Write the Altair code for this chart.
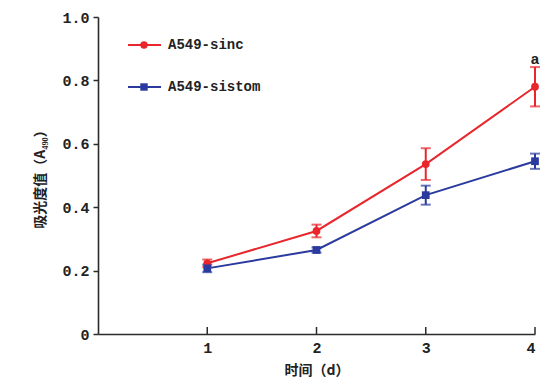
import altair as alt
import pandas as pd

days = [1, 2, 3, 4]
sinc_mean = [0.223, 0.325, 0.536, 0.780]
sinc_err = [0.012, 0.020, 0.050, 0.062]
sistom_mean = [0.207, 0.265, 0.438, 0.545]
sistom_err = [0.012, 0.008, 0.030, 0.024]
series_names = ["A549-sinc", "A549-sistom"]
series_colors = ["#E8262B", "#2A3A9E"]
y_ticks = [0, 0.2, 0.4, 0.6, 0.8, 1.0]
x_ticks = [1, 2, 3, 4]
annot_day = [4]
annot_y = [0.868]
annot_text = ["a"]

rows = []
for name, m, e in [(series_names[0], sinc_mean, sinc_err), (series_names[1], sistom_mean, sistom_err)]:
    for d, mm, ee in zip(days, m, e):
        rows.append({"day": d, "value": mm, "lo": mm - ee, "hi": mm + ee, "series": name})
df = pd.DataFrame(rows)

W, H = 437, 317
mono = "Liberation Mono"
cjk = "Noto Sans CJK SC"
axis_col = "#2b2b2b"

xs = alt.Scale(domain=[0, 4], nice=False, zero=True)
ys = alt.Scale(domain=[0, 1], nice=False)
cs = alt.Scale(domain=series_names, range=series_colors)

base = alt.Chart(df)

x_enc = alt.X("day:Q", scale=xs, axis=alt.Axis(
    values=x_ticks, format="d", title="时间（d）", ticks=False, grid=False, domainColor=axis_col,
    domainWidth=1.6, labelFont=mono, labelFontWeight="bold", labelFontSize=15,
    labelColor="#222", labelPadding=6, titleFont=cjk, titleFontWeight="bold",
    titleFontSize=14, titleColor="#222", titlePadding=8))
y_enc = alt.Y("value:Q", scale=ys, axis=alt.Axis(
    values=y_ticks, title="吸光度值（A₄₉₀）", grid=False, domainColor=axis_col,
    domainWidth=1.6, tickColor=axis_col, tickWidth=1.5, tickSize=5,
    labelExpr="datum.value == 0 ? '0' : format(datum.value, '.1f')",
    labelFont=mono, labelFontWeight="bold", labelFontSize=15, labelColor="#222",
    labelPadding=4, titleFont=cjk, titleFontWeight="bold", titleFontSize=14,
    titleColor="#222", titlePadding=14))

lines = base.mark_line(strokeWidth=2).encode(
    x=x_enc, y=y_enc, color=alt.Color("series:N", scale=cs, legend=None),
    detail="series:N")

err = base.mark_rule(strokeWidth=2).encode(
    x=alt.X("day:Q", scale=xs), y=alt.Y("lo:Q", scale=ys), y2="hi:Q",
    color=alt.Color("series:N", scale=cs, legend=None))
cap_lo = base.mark_tick(orient="horizontal", size=10, thickness=2).encode(
    x=alt.X("day:Q", scale=xs), y=alt.Y("lo:Q", scale=ys),
    color=alt.Color("series:N", scale=cs, legend=None))
cap_hi = base.mark_tick(orient="horizontal", size=10, thickness=2).encode(
    x=alt.X("day:Q", scale=xs), y=alt.Y("hi:Q", scale=ys),
    color=alt.Color("series:N", scale=cs, legend=None))

pts_circle = base.transform_filter(alt.datum.series == series_names[0]).mark_point(
    shape="circle", filled=True, size=60, opacity=1).encode(
    x=alt.X("day:Q", scale=xs), y=alt.Y("value:Q", scale=ys),
    color=alt.Color("series:N", scale=cs, legend=None))
pts_square = base.transform_filter(alt.datum.series == series_names[1]).mark_point(
    shape="square", filled=True, size=60, opacity=1).encode(
    x=alt.X("day:Q", scale=xs), y=alt.Y("value:Q", scale=ys),
    color=alt.Color("series:N", scale=cs, legend=None))

# inward x-axis ticks
xt = alt.Chart(pd.DataFrame({"day": x_ticks})).mark_rule(color=axis_col, strokeWidth=1.5).encode(
    x=alt.X("day:Q", scale=xs), y=alt.value(H), y2=alt.value(H - 7))

annot = alt.Chart(pd.DataFrame({"day": annot_day, "value": annot_y, "t": annot_text})).mark_text(
    font=mono, fontWeight="bold", fontSize=15, color="#222").encode(
    x=alt.X("day:Q", scale=xs), y=alt.Y("value:Q", scale=ys), text="t:N")

# legend
leg_y = [28, 70]
leg_layers = []
for i, name in enumerate(series_names):
    ld = pd.DataFrame({"n": [name]})
    c = series_colors[i]
    leg_layers.append(alt.Chart(ld).mark_rule(color=c, strokeWidth=2).encode(
        x=alt.value(30), x2=alt.value(63), y=alt.value(leg_y[i])))
    leg_layers.append(alt.Chart(ld).mark_point(
        shape="circle" if i == 0 else "square", filled=True, size=55, color=c, opacity=1).encode(
        x=alt.value(46), y=alt.value(leg_y[i])))
    leg_layers.append(alt.Chart(ld).mark_text(
        align="left", baseline="middle", font=mono, fontWeight="bold", fontSize=14,
        color="#222").encode(x=alt.value(70), y=alt.value(leg_y[i]), text="n:N"))

chart = alt.layer(lines, err, cap_lo, cap_hi, pts_circle, pts_square, xt, annot, *leg_layers).properties(
    width=W, height=H,
    autosize=alt.AutoSizeParams(type="none"),
    padding={"left": 90, "top": 9, "right": 5, "bottom": 50},
    background="white",
).configure_view(stroke=None)

chart.save("out.html", embed_options={"renderer": "svg", "actions": False})
